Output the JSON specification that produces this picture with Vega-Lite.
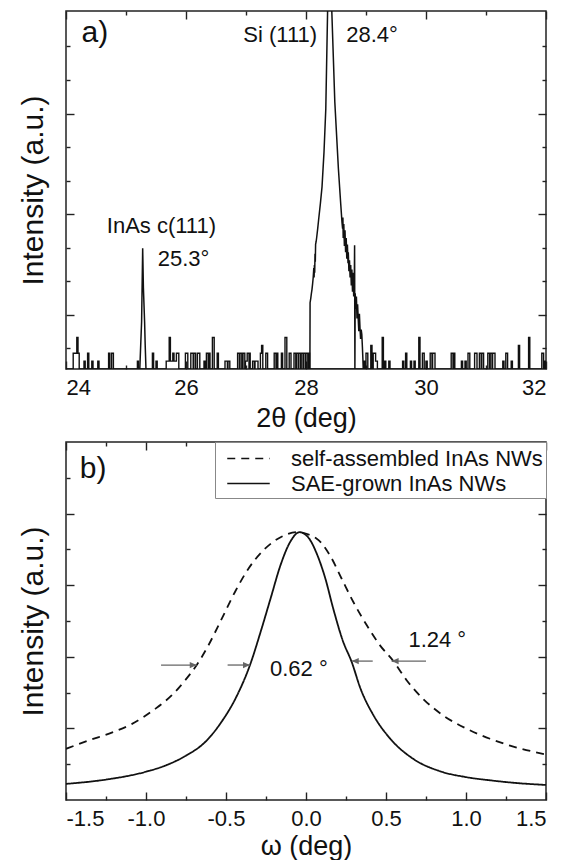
{
  "$schema": "https://vega.github.io/schema/vega-lite/v6.json",
  "background": "white",
  "padding": {"left": 17, "top": 9, "right": 4, "bottom": 0},
  "spacing": 8,
  "config": {
    "font": "Liberation Sans",
    "view": {"stroke": "#222", "strokeWidth": 1.5},
    "axis": {"domain": false, "grid": false, "tickColor": "#222", "tickWidth": 1.4, "labelFont": "Liberation Sans", "labelFontSize": 22, "labelColor": "#111", "titleFont": "Liberation Sans", "titleFontSize": 27, "titleFontWeight": "normal", "titleColor": "#111"},
    "text": {"font": "Liberation Sans", "color": "#111"}
  },
  "resolve": {"scale": {"x": "independent", "y": "independent", "strokeDash": "independent", "shape": "independent"}, "legend": {"strokeDash": "independent", "shape": "independent"}},
  "vconcat": [
    {
      "width": 480,
      "height": 358,
      "resolve": {"axis": {"x": "independent", "y": "independent"}},
      "layer": [
        {
          "data": {"values": [
            {"angle": 24.0, "counts": 0},
            {"angle": 24.12, "counts": 2}, {"angle": 24.18, "counts": 4}, {"angle": 24.2, "counts": 2}, {"angle": 24.22, "counts": 0},
            {"angle": 24.3, "counts": 1}, {"angle": 24.32, "counts": 0},
            {"angle": 24.36, "counts": 2}, {"angle": 24.38, "counts": 0},
            {"angle": 24.43, "counts": 1}, {"angle": 24.45, "counts": 0},
            {"angle": 24.53, "counts": 1}, {"angle": 24.55, "counts": 0},
            {"angle": 24.71, "counts": 2}, {"angle": 24.73, "counts": 0}, {"angle": 24.76, "counts": 2}, {"angle": 24.79, "counts": 0},
            {"angle": 25.19, "counts": 1}, {"angle": 25.21, "counts": 0},
            {"angle": 25.44, "counts": 2}, {"angle": 25.46, "counts": 0},
            {"angle": 25.5, "counts": 1}, {"angle": 25.52, "counts": 0},
            {"angle": 25.67, "counts": 1}, {"angle": 25.72, "counts": 4}, {"angle": 25.74, "counts": 1}, {"angle": 25.78, "counts": 2}, {"angle": 25.8, "counts": 1}, {"angle": 25.84, "counts": 2}, {"angle": 25.88, "counts": 0},
            {"angle": 25.99, "counts": 2}, {"angle": 26.03, "counts": 0},
            {"angle": 26.08, "counts": 2}, {"angle": 26.12, "counts": 0}, {"angle": 26.13, "counts": 2}, {"angle": 26.16, "counts": 0},
            {"angle": 26.19, "counts": 2}, {"angle": 26.23, "counts": 0},
            {"angle": 26.3, "counts": 1}, {"angle": 26.32, "counts": 0},
            {"angle": 26.34, "counts": 2}, {"angle": 26.37, "counts": 0}, {"angle": 26.38, "counts": 2}, {"angle": 26.4, "counts": 0},
            {"angle": 26.44, "counts": 4}, {"angle": 26.47, "counts": 0},
            {"angle": 26.52, "counts": 2}, {"angle": 26.54, "counts": 0},
            {"angle": 26.65, "counts": 1}, {"angle": 26.69, "counts": 0}, {"angle": 26.7, "counts": 1}, {"angle": 26.73, "counts": 0},
            {"angle": 26.86, "counts": 2}, {"angle": 26.89, "counts": 0}, {"angle": 26.9, "counts": 2}, {"angle": 26.93, "counts": 0},
            {"angle": 26.95, "counts": 2}, {"angle": 26.98, "counts": 0}, {"angle": 26.99, "counts": 1}, {"angle": 27.02, "counts": 2}, {"angle": 27.05, "counts": 0}, {"angle": 27.06, "counts": 2}, {"angle": 27.07, "counts": 0},
            {"angle": 27.11, "counts": 1}, {"angle": 27.14, "counts": 0}, {"angle": 27.15, "counts": 1}, {"angle": 27.2, "counts": 0},
            {"angle": 27.24, "counts": 2}, {"angle": 27.26, "counts": 3}, {"angle": 27.28, "counts": 0},
            {"angle": 27.33, "counts": 2}, {"angle": 27.36, "counts": 0},
            {"angle": 27.47, "counts": 2}, {"angle": 27.5, "counts": 0}, {"angle": 27.51, "counts": 2}, {"angle": 27.53, "counts": 0},
            {"angle": 27.59, "counts": 2}, {"angle": 27.61, "counts": 0},
            {"angle": 27.65, "counts": 4}, {"angle": 27.68, "counts": 0},
            {"angle": 27.72, "counts": 2}, {"angle": 27.75, "counts": 0},
            {"angle": 27.8, "counts": 2}, {"angle": 27.83, "counts": 0}, {"angle": 27.84, "counts": 2}, {"angle": 27.87, "counts": 0}, {"angle": 27.88, "counts": 2}, {"angle": 27.91, "counts": 0}, {"angle": 27.92, "counts": 2}, {"angle": 27.95, "counts": 0}, {"angle": 27.96, "counts": 2}, {"angle": 27.99, "counts": 0}, {"angle": 28.0, "counts": 2}, {"angle": 28.03, "counts": 0}, {"angle": 28.04, "counts": 2}, {"angle": 28.06, "counts": 0},
            {"angle": 28.96, "counts": 1}, {"angle": 28.98, "counts": 0},
            {"angle": 29.0, "counts": 2}, {"angle": 29.03, "counts": 0},
            {"angle": 29.08, "counts": 3}, {"angle": 29.1, "counts": 0},
            {"angle": 29.12, "counts": 2}, {"angle": 29.16, "counts": 1}, {"angle": 29.19, "counts": 0},
            {"angle": 29.27, "counts": 4}, {"angle": 29.29, "counts": 0},
            {"angle": 29.31, "counts": 1}, {"angle": 29.33, "counts": 0},
            {"angle": 29.38, "counts": 1}, {"angle": 29.4, "counts": 0},
            {"angle": 29.61, "counts": 1}, {"angle": 29.63, "counts": 0},
            {"angle": 29.66, "counts": 2}, {"angle": 29.68, "counts": 0},
            {"angle": 29.74, "counts": 1}, {"angle": 29.76, "counts": 0},
            {"angle": 29.8, "counts": 1}, {"angle": 29.82, "counts": 0},
            {"angle": 29.88, "counts": 4}, {"angle": 29.9, "counts": 0},
            {"angle": 29.94, "counts": 2}, {"angle": 29.97, "counts": 0},
            {"angle": 30.0, "counts": 1}, {"angle": 30.02, "counts": 0},
            {"angle": 30.07, "counts": 2}, {"angle": 30.1, "counts": 0}, {"angle": 30.11, "counts": 2}, {"angle": 30.15, "counts": 0},
            {"angle": 30.42, "counts": 2}, {"angle": 30.45, "counts": 0}, {"angle": 30.46, "counts": 2}, {"angle": 30.48, "counts": 0},
            {"angle": 30.59, "counts": 1}, {"angle": 30.61, "counts": 0},
            {"angle": 30.65, "counts": 1}, {"angle": 30.67, "counts": 0},
            {"angle": 30.7, "counts": 2}, {"angle": 30.73, "counts": 0},
            {"angle": 30.81, "counts": 2}, {"angle": 30.85, "counts": 0},
            {"angle": 30.89, "counts": 2}, {"angle": 30.92, "counts": 0}, {"angle": 30.93, "counts": 2}, {"angle": 30.96, "counts": 0},
            {"angle": 31.03, "counts": 2}, {"angle": 31.06, "counts": 0}, {"angle": 31.07, "counts": 2}, {"angle": 31.1, "counts": 0}, {"angle": 31.11, "counts": 2}, {"angle": 31.15, "counts": 0},
            {"angle": 31.28, "counts": 1}, {"angle": 31.3, "counts": 0},
            {"angle": 31.33, "counts": 2}, {"angle": 31.36, "counts": 0},
            {"angle": 31.42, "counts": 1}, {"angle": 31.44, "counts": 0},
            {"angle": 31.54, "counts": 3}, {"angle": 31.56, "counts": 0},
            {"angle": 31.71, "counts": 4}, {"angle": 31.73, "counts": 0},
            {"angle": 31.93, "counts": 2}, {"angle": 31.96, "counts": 0},
            {"angle": 31.98, "counts": 1}, {"angle": 32.0, "counts": 0}
          ]},
          "mark": {"type": "line", "interpolate": "step-after", "clip": true, "color": "#111", "strokeWidth": 1.4},
          "encoding": {
            "x": {"field": "angle", "type": "quantitative", "scale": {"domain": [24, 32], "nice": false, "zero": false},
                  "axis": {"orient": "bottom", "values": [24, 26, 28, 30, 32], "format": "d", "ticks": false, "labelPadding": 8, "title": "2θ (deg)", "titlePadding": 7}},
            "y": {"field": "counts", "type": "quantitative", "scale": {"domain": [0, 45.4], "nice": false, "zero": false},
                  "axis": {"orient": "left", "labels": false, "ticks": false, "title": "Intensity (a.u.)", "titleFontSize": 30, "titlePadding": 18}}
          }
        },
        {
          "data": {"values": [
            {"seg": "InAs", "angle": 25.23, "counts": 0}, {"seg": "InAs", "angle": 25.26, "counts": 6}, {"seg": "InAs", "angle": 25.278, "counts": 15.3}, {"seg": "InAs", "angle": 25.29, "counts": 10.3}, {"seg": "InAs", "angle": 25.31, "counts": 6}, {"seg": "InAs", "angle": 25.32, "counts": 3}, {"seg": "InAs", "angle": 25.333, "counts": 0},
            {"seg": "Si", "angle": 28.065, "counts": 0}, {"seg": "Si", "angle": 28.068, "counts": 8.4}, {"seg": "Si", "angle": 28.08, "counts": 9.0}, {"seg": "Si", "angle": 28.09, "counts": 9.6}, {"seg": "Si", "angle": 28.1, "counts": 10.1}, {"seg": "Si", "angle": 28.11, "counts": 10.8}, {"seg": "Si", "angle": 28.12, "counts": 11.6}, {"seg": "Si", "angle": 28.13, "counts": 12.8}, {"seg": "Si", "angle": 28.135, "counts": 11.6}, {"seg": "Si", "angle": 28.14, "counts": 13.2}, {"seg": "Si", "angle": 28.145, "counts": 12.2}, {"seg": "Si", "angle": 28.15, "counts": 14.6}, {"seg": "Si", "angle": 28.155, "counts": 13.6}, {"seg": "Si", "angle": 28.16, "counts": 15.8}, {"seg": "Si", "angle": 28.17, "counts": 16.2}, {"seg": "Si", "angle": 28.18, "counts": 16.8}, {"seg": "Si", "angle": 28.195, "counts": 17.8}, {"seg": "Si", "angle": 28.21, "counts": 18.9}, {"seg": "Si", "angle": 28.24, "counts": 21.0}, {"seg": "Si", "angle": 28.267, "counts": 23.1}, {"seg": "Si", "angle": 28.3, "counts": 27.5}, {"seg": "Si", "angle": 28.33, "counts": 33.0}, {"seg": "Si", "angle": 28.36, "counts": 45.4}, {"seg": "Si", "angle": 28.38, "counts": 90}, {"seg": "Si", "angle": 28.4, "counts": 160}, {"seg": "Si", "angle": 28.415, "counts": 90}, {"seg": "Si", "angle": 28.43, "counts": 45.4}, {"seg": "Si", "angle": 28.48, "counts": 33.9}, {"seg": "Si", "angle": 28.54, "counts": 25.4}, {"seg": "Si", "angle": 28.58, "counts": 20.8}, {"seg": "Si", "angle": 28.6, "counts": 18.6}, {"seg": "Si", "angle": 28.61, "counts": 17.8}, {"seg": "Si", "angle": 28.615, "counts": 19.2}, {"seg": "Si", "angle": 28.62, "counts": 16.6}, {"seg": "Si", "angle": 28.63, "counts": 18.4}, {"seg": "Si", "angle": 28.64, "counts": 15.6}, {"seg": "Si", "angle": 28.65, "counts": 17.6}, {"seg": "Si", "angle": 28.66, "counts": 14.8}, {"seg": "Si", "angle": 28.67, "counts": 16.6}, {"seg": "Si", "angle": 28.68, "counts": 14.0}, {"seg": "Si", "angle": 28.69, "counts": 15.8}, {"seg": "Si", "angle": 28.7, "counts": 13.4}, {"seg": "Si", "angle": 28.705, "counts": 14.8}, {"seg": "Si", "angle": 28.715, "counts": 12.4}, {"seg": "Si", "angle": 28.725, "counts": 13.8}, {"seg": "Si", "angle": 28.735, "counts": 11.6}, {"seg": "Si", "angle": 28.745, "counts": 13.2}, {"seg": "Si", "angle": 28.755, "counts": 10.6}, {"seg": "Si", "angle": 28.765, "counts": 12.6}, {"seg": "Si", "angle": 28.775, "counts": 9.8}, {"seg": "Si", "angle": 28.785, "counts": 12.2}, {"seg": "Si", "angle": 28.795, "counts": 9.2}, {"seg": "Si", "angle": 28.805, "counts": 11.0}, {"seg": "Si", "angle": 28.81, "counts": 15.7}, {"seg": "Si", "angle": 28.815, "counts": 0}, {"seg": "Si", "angle": 28.82, "counts": 9.6}, {"seg": "Si", "angle": 28.83, "counts": 7.6}, {"seg": "Si", "angle": 28.84, "counts": 9.2}, {"seg": "Si", "angle": 28.85, "counts": 6.4}, {"seg": "Si", "angle": 28.86, "counts": 8.2}, {"seg": "Si", "angle": 28.87, "counts": 6.4}, {"seg": "Si", "angle": 28.88, "counts": 4.8}, {"seg": "Si", "angle": 28.89, "counts": 7.0}, {"seg": "Si", "angle": 28.9, "counts": 5.2}, {"seg": "Si", "angle": 28.91, "counts": 3.8}, {"seg": "Si", "angle": 28.92, "counts": 5.0}, {"seg": "Si", "angle": 28.93, "counts": 4.4}, {"seg": "Si", "angle": 28.94, "counts": 2.8}, {"seg": "Si", "angle": 28.955, "counts": 0}
          ]},
          "mark": {"type": "line", "clip": true, "color": "#111", "strokeWidth": 1.5},
          "encoding": {
            "x": {"field": "angle", "type": "quantitative", "scale": {"domain": [24, 32], "nice": false, "zero": false},
                  "axis": {"orient": "bottom", "values": [24, 25, 26, 27, 28, 29, 30, 31, 32], "labels": false, "title": null,
                           "tickSize": {"condition": {"test": "datum.value % 2 === 0", "value": -8}, "value": -4}}},
            "y": {"field": "counts", "type": "quantitative", "scale": {"domain": [0, 45.4], "nice": false, "zero": false},
                  "axis": {"orient": "left", "values": [2.65, 6.9, 11.15, 15.4, 19.65, 23.9, 28.15, 32.4, 36.65, 40.9], "labels": false, "title": null,
                           "tickSize": {"condition": {"test": "indexof([6.9, 19.65, 32.4], datum.value) >= 0", "value": -8}, "value": -4}}},
            "detail": {"field": "seg", "type": "nominal"}
          }
        },
        {
          "data": {"values": [
            {"angle": 27.57, "counts": 42.4, "label": "Si (111)"},
            {"angle": 29.1, "counts": 42.4, "label": "28.4°"},
            {"angle": 25.59, "counts": 18.1, "label": "InAs c(111)"},
            {"angle": 25.96, "counts": 14.0, "label": "25.3°"}
          ]},
          "mark": {"type": "text", "fontSize": 22, "align": "center", "baseline": "middle", "color": "#111"},
          "encoding": {
            "x": {"field": "angle", "type": "quantitative", "scale": {"domain": [24, 32], "nice": false, "zero": false},
                  "axis": {"orient": "top", "values": [24, 25, 26, 27, 28, 29, 30, 31, 32], "labels": false, "title": null,
                           "tickSize": {"condition": {"test": "datum.value % 2 === 0", "value": -8}, "value": -4}}},
            "y": {"field": "counts", "type": "quantitative", "scale": {"domain": [0, 45.4], "nice": false, "zero": false},
                  "axis": {"orient": "right", "values": [2.65, 6.9, 11.15, 15.4, 19.65, 23.9, 28.15, 32.4, 36.65, 40.9], "labels": false, "title": null,
                           "tickSize": {"condition": {"test": "indexof([6.9, 19.65, 32.4], datum.value) >= 0", "value": -8}, "value": -4}}},
            "text": {"field": "label", "type": "nominal"}
          }
        },
        {
          "data": {"values": [{"angle": 24.48, "counts": 42.6, "label": "a)"}]},
          "mark": {"type": "text", "fontSize": 30, "align": "center", "baseline": "middle", "color": "#111"},
          "encoding": {
            "x": {"field": "angle", "type": "quantitative", "scale": {"domain": [24, 32], "nice": false, "zero": false}, "axis": null},
            "y": {"field": "counts", "type": "quantitative", "scale": {"domain": [0, 45.4], "nice": false, "zero": false}, "axis": null},
            "text": {"field": "label", "type": "nominal"}
          }
        }
      ]
    },
    {
      "width": 480,
      "height": 358,
      "resolve": {"axis": {"x": "independent", "y": "independent"}},
      "layer": [
        {
          "data": {"values": [
            {"series": "self-assembled InAs NWs", "omega": -1.5, "intensity": 1.43},
            {"series": "self-assembled InAs NWs", "omega": -1.36, "intensity": 1.66},
            {"series": "self-assembled InAs NWs", "omega": -1.21, "intensity": 1.89},
            {"series": "self-assembled InAs NWs", "omega": -1.09, "intensity": 2.12},
            {"series": "self-assembled InAs NWs", "omega": -0.944, "intensity": 2.54},
            {"series": "self-assembled InAs NWs", "omega": -0.84, "intensity": 2.92},
            {"series": "self-assembled InAs NWs", "omega": -0.756, "intensity": 3.34},
            {"series": "self-assembled InAs NWs", "omega": -0.683, "intensity": 3.77},
            {"series": "self-assembled InAs NWs", "omega": -0.61, "intensity": 4.32},
            {"series": "self-assembled InAs NWs", "omega": -0.527, "intensity": 5.06},
            {"series": "self-assembled InAs NWs", "omega": -0.444, "intensity": 5.81},
            {"series": "self-assembled InAs NWs", "omega": -0.36, "intensity": 6.46},
            {"series": "self-assembled InAs NWs", "omega": -0.256, "intensity": 7.02},
            {"series": "self-assembled InAs NWs", "omega": -0.15, "intensity": 7.36},
            {"series": "self-assembled InAs NWs", "omega": -0.06, "intensity": 7.48},
            {"series": "self-assembled InAs NWs", "omega": 0.067, "intensity": 7.3},
            {"series": "self-assembled InAs NWs", "omega": 0.15, "intensity": 6.83},
            {"series": "self-assembled InAs NWs", "omega": 0.223, "intensity": 6.18},
            {"series": "self-assembled InAs NWs", "omega": 0.296, "intensity": 5.53},
            {"series": "self-assembled InAs NWs", "omega": 0.38, "intensity": 4.88},
            {"series": "self-assembled InAs NWs", "omega": 0.4625, "intensity": 4.32},
            {"series": "self-assembled InAs NWs", "omega": 0.546, "intensity": 3.88},
            {"series": "self-assembled InAs NWs", "omega": 0.63, "intensity": 3.34},
            {"series": "self-assembled InAs NWs", "omega": 0.733, "intensity": 2.82},
            {"series": "self-assembled InAs NWs", "omega": 0.858, "intensity": 2.36},
            {"series": "self-assembled InAs NWs", "omega": 1.004, "intensity": 1.99},
            {"series": "self-assembled InAs NWs", "omega": 1.15, "intensity": 1.71},
            {"series": "self-assembled InAs NWs", "omega": 1.275, "intensity": 1.52},
            {"series": "self-assembled InAs NWs", "omega": 1.5, "intensity": 1.27},
            {"series": "SAE-grown InAs NWs", "omega": -1.5, "intensity": 0.45},
            {"series": "SAE-grown InAs NWs", "omega": -1.25, "intensity": 0.57},
            {"series": "SAE-grown InAs NWs", "omega": -1.0, "intensity": 0.79},
            {"series": "SAE-grown InAs NWs", "omega": -0.88, "intensity": 0.96},
            {"series": "SAE-grown InAs NWs", "omega": -0.75, "intensity": 1.24},
            {"series": "SAE-grown InAs NWs", "omega": -0.63, "intensity": 1.62},
            {"series": "SAE-grown InAs NWs", "omega": -0.53, "intensity": 2.17},
            {"series": "SAE-grown InAs NWs", "omega": -0.44, "intensity": 2.84},
            {"series": "SAE-grown InAs NWs", "omega": -0.35, "intensity": 3.77},
            {"series": "SAE-grown InAs NWs", "omega": -0.28, "intensity": 4.75},
            {"series": "SAE-grown InAs NWs", "omega": -0.22, "intensity": 5.65},
            {"series": "SAE-grown InAs NWs", "omega": -0.16, "intensity": 6.55},
            {"series": "SAE-grown InAs NWs", "omega": -0.1, "intensity": 7.2},
            {"series": "SAE-grown InAs NWs", "omega": -0.04, "intensity": 7.48},
            {"series": "SAE-grown InAs NWs", "omega": 0.02, "intensity": 7.3},
            {"series": "SAE-grown InAs NWs", "omega": 0.07, "intensity": 6.85},
            {"series": "SAE-grown InAs NWs", "omega": 0.12, "intensity": 6.2},
            {"series": "SAE-grown InAs NWs", "omega": 0.17, "intensity": 5.35},
            {"series": "SAE-grown InAs NWs", "omega": 0.23, "intensity": 4.45},
            {"series": "SAE-grown InAs NWs", "omega": 0.286, "intensity": 3.85},
            {"series": "SAE-grown InAs NWs", "omega": 0.34, "intensity": 3.12},
            {"series": "SAE-grown InAs NWs", "omega": 0.42, "intensity": 2.38},
            {"series": "SAE-grown InAs NWs", "omega": 0.525, "intensity": 1.72},
            {"series": "SAE-grown InAs NWs", "omega": 0.67, "intensity": 1.15},
            {"series": "SAE-grown InAs NWs", "omega": 0.84, "intensity": 0.8},
            {"series": "SAE-grown InAs NWs", "omega": 1.0, "intensity": 0.64},
            {"series": "SAE-grown InAs NWs", "omega": 1.17, "intensity": 0.54},
            {"series": "SAE-grown InAs NWs", "omega": 1.3, "intensity": 0.48},
            {"series": "SAE-grown InAs NWs", "omega": 1.5, "intensity": 0.42}
          ]},
          "mark": {"type": "line", "interpolate": "monotone", "clip": true, "color": "#111", "strokeWidth": 1.8},
          "encoding": {
            "x": {"field": "omega", "type": "quantitative", "scale": {"domain": [-1.5, 1.5], "nice": false, "zero": false},
                  "axis": {"orient": "bottom", "values": [-1.5, -1, -0.5, 0, 0.5, 1, 1.5], "labelExpr": "replace(format(datum.value, '.1f'), '\u2212', '-')", "ticks": false, "labelPadding": 8, "title": "ω (deg)", "titlePadding": 4}},
            "y": {"field": "intensity", "type": "quantitative", "scale": {"domain": [0, 10], "nice": false, "zero": false},
                  "axis": {"orient": "left", "labels": false, "ticks": false, "title": "Intensity (a.u.)", "titleFontSize": 30, "titlePadding": 18}},
            "strokeDash": {"field": "series", "type": "nominal",
                           "scale": {"domain": ["self-assembled InAs NWs", "SAE-grown InAs NWs"], "range": [[8, 6], [1, 0]]},
                           "legend": {"title": null, "orient": "top-right", "offset": 0, "strokeColor": "#888", "fillColor": "white", "padding": 3,
                                      "symbolType": "M-1.7,0L1.7,0", "symbolSize": 625, "symbolStrokeWidth": 1.6, "symbolStrokeColor": "#111",
                                      "symbolOffset": 17, "labelOffset": 29, "labelFont": "Liberation Sans", "labelFontSize": 22, "labelColor": "#111",
                                      "labelLimit": 400, "rowPadding": 0}}
          }
        },
        {
          "data": {"values": [
            {"omega": -0.906, "omega_tip": -0.683, "intensity": 3.77, "dir": "right"},
            {"omega": -0.49, "omega_tip": -0.35, "intensity": 3.77, "dir": "right"},
            {"omega": 0.417, "omega_tip": 0.286, "intensity": 3.88, "dir": "left"},
            {"omega": 0.75, "omega_tip": 0.535, "intensity": 3.88, "dir": "left"}
          ]},
          "mark": {"type": "rule", "color": "#666", "strokeWidth": 1.3},
          "encoding": {
            "x": {"field": "omega", "type": "quantitative", "scale": {"domain": [-1.5, 1.5], "nice": false, "zero": false},
                  "axis": {"orient": "bottom", "values": [-1.5, -1.25, -1, -0.75, -0.5, -0.25, 0, 0.25, 0.5, 0.75, 1, 1.25, 1.5], "labels": false, "title": null,
                           "tickSize": {"condition": {"test": "abs(datum.value * 2 - round(datum.value * 2)) < 0.001", "value": -8}, "value": -4}}},
            "x2": {"field": "omega_tip"},
            "y": {"field": "intensity", "type": "quantitative", "scale": {"domain": [0, 10], "nice": false, "zero": false},
                  "axis": {"orient": "left", "values": [1, 2, 3, 4, 5, 6, 7, 8, 9], "labels": false, "title": null,
                           "tickSize": {"condition": {"test": "datum.value % 2 === 0", "value": -8}, "value": -4}}}
          }
        },
        {
          "data": {"values": [
            {"omega_tip": -0.683, "intensity": 3.77, "dir": "right"},
            {"omega_tip": -0.35, "intensity": 3.77, "dir": "right"},
            {"omega_tip": 0.286, "intensity": 3.88, "dir": "left"},
            {"omega_tip": 0.535, "intensity": 3.88, "dir": "left"}
          ]},
          "mark": {"type": "point", "filled": true, "color": "#666", "size": 196, "opacity": 1},
          "encoding": {
            "x": {"field": "omega_tip", "type": "quantitative", "scale": {"domain": [-1.5, 1.5], "nice": false, "zero": false},
                  "axis": {"orient": "top", "values": [-1.5, -1.25, -1, -0.75, -0.5, -0.25, 0, 0.25, 0.5, 0.75, 1, 1.25, 1.5], "labels": false, "title": null,
                           "tickSize": {"condition": {"test": "abs(datum.value * 2 - round(datum.value * 2)) < 0.001", "value": -8}, "value": -4}}},
            "y": {"field": "intensity", "type": "quantitative", "scale": {"domain": [0, 10], "nice": false, "zero": false},
                  "axis": {"orient": "right", "values": [1, 2, 3, 4, 5, 6, 7, 8, 9], "labels": false, "title": null,
                           "tickSize": {"condition": {"test": "datum.value % 2 === 0", "value": -8}, "value": -4}}},
            "shape": {"field": "dir", "type": "nominal", "scale": {"domain": ["right", "left"], "range": ["M0,0L-1,-0.45L-1,0.45Z", "M0,0L1,-0.45L1,0.45Z"]}, "legend": null}
          }
        },
        {
          "data": {"values": [
            {"omega": -0.225, "intensity": 3.65, "label": "0.62 °"},
            {"omega": 0.64, "intensity": 4.46, "label": "1.24 °"}
          ]},
          "mark": {"type": "text", "fontSize": 22, "align": "left", "baseline": "middle", "color": "#111"},
          "encoding": {
            "x": {"field": "omega", "type": "quantitative", "scale": {"domain": [-1.5, 1.5], "nice": false, "zero": false}, "axis": null},
            "y": {"field": "intensity", "type": "quantitative", "scale": {"domain": [0, 10], "nice": false, "zero": false}, "axis": null},
            "text": {"field": "label", "type": "nominal"}
          }
        },
        {
          "data": {"values": [{"omega": -1.33, "intensity": 9.25, "label": "b)"}]},
          "mark": {"type": "text", "fontSize": 30, "align": "center", "baseline": "middle", "color": "#111"},
          "encoding": {
            "x": {"field": "omega", "type": "quantitative", "scale": {"domain": [-1.5, 1.5], "nice": false, "zero": false}, "axis": null},
            "y": {"field": "intensity", "type": "quantitative", "scale": {"domain": [0, 10], "nice": false, "zero": false}, "axis": null},
            "text": {"field": "label", "type": "nominal"}
          }
        }
      ]
    }
  ]
}
